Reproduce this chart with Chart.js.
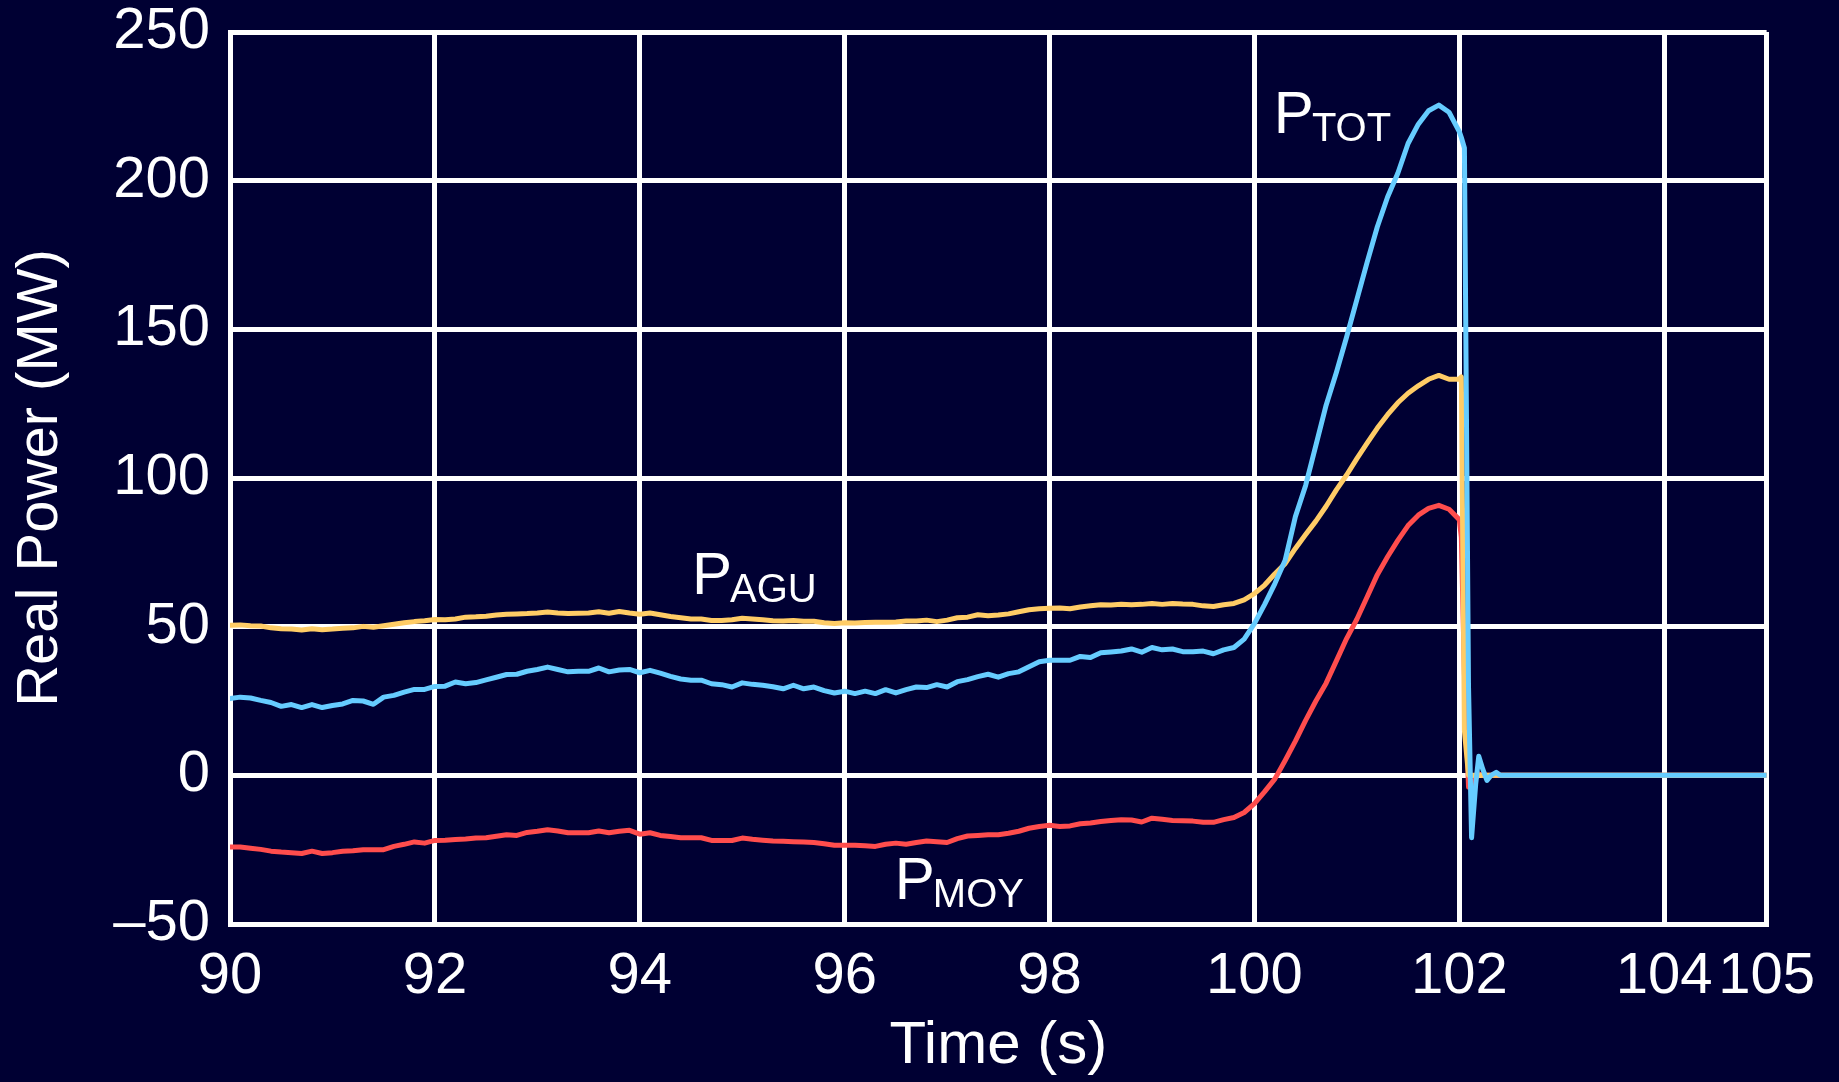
<!DOCTYPE html>
<html>
<head>
<meta charset="utf-8">
<title>Real Power</title>
<script src="https://cdn.jsdelivr.net/npm/chart.js@4.4.1/dist/chart.umd.min.js"></script>
<style>
  html, body { margin: 0; padding: 0; background: #000033; }
  #wrap { width: 1839px; height: 1082px; }
</style>
</head>
<body>
<div id="wrap"><canvas id="powerChart"></canvas></div>
<script>
// Sample times (s)
const timeS = [
  90.0, 90.1, 90.2, 90.3, 90.4, 90.5, 90.6, 90.7, 90.8, 90.9,
  91.0, 91.1, 91.2, 91.3, 91.4, 91.5, 91.6, 91.7, 91.8, 91.9,
  92.0, 92.1, 92.2, 92.3, 92.4, 92.5, 92.6, 92.7, 92.8, 92.9,
  93.0, 93.1, 93.2, 93.3, 93.4, 93.5, 93.6, 93.7, 93.8, 93.9,
  94.0, 94.1, 94.2, 94.3, 94.4, 94.5, 94.6, 94.7, 94.8, 94.9,
  95.0, 95.1, 95.2, 95.3, 95.4, 95.5, 95.6, 95.7, 95.8, 95.9,
  96.0, 96.1, 96.2, 96.3, 96.4, 96.5, 96.6, 96.7, 96.8, 96.9,
  97.0, 97.1, 97.2, 97.3, 97.4, 97.5, 97.6, 97.7, 97.8, 97.9,
  98.0, 98.1, 98.2, 98.3, 98.4, 98.5, 98.6, 98.7, 98.8, 98.9,
  99.0, 99.1, 99.2, 99.3, 99.4, 99.5, 99.6, 99.7, 99.8, 99.9,
  100.0, 100.1, 100.2, 100.3, 100.4, 100.5, 100.6, 100.7, 100.8, 100.9,
  101.0, 101.1, 101.2, 101.3, 101.4, 101.5, 101.6, 101.7, 101.8, 101.9,
  102.0, 102.02, 102.05, 102.09, 102.12, 102.16, 102.19, 102.23, 102.27, 102.31,
  102.36, 102.4, 103, 104, 105
];

// P_TOT (MW)
const pTot = [
  25.8, 26.3, 26.0, 25.2, 24.5, 23.2, 23.8, 22.8, 23.8, 22.8,
  23.5, 24.0, 25.2, 25.0, 23.9, 26.3, 26.9, 28.0, 28.9, 28.9,
  29.9, 30.0, 31.4, 30.8, 31.2, 32.1, 33.0, 33.9, 34.0, 35.0,
  35.6, 36.4, 35.6, 34.8, 35.0, 35.0, 36.1, 34.8, 35.4, 35.6,
  34.5, 35.3, 34.4, 33.3, 32.4, 32.0, 32.0, 30.8, 30.5, 29.7,
  31.1, 30.6, 30.3, 29.8, 29.1, 30.3, 29.1, 29.7, 28.5, 27.7,
  28.3, 27.5, 28.3, 27.5, 28.8, 27.7, 28.8, 29.7, 29.5, 30.5,
  29.7, 31.5, 32.2, 33.2, 34.0, 33.0, 34.2, 34.8, 36.5, 38.2,
  38.7, 38.7, 38.7, 40.0, 39.6, 41.2, 41.5, 41.8, 42.5, 41.4,
  43.0, 42.2, 42.5, 41.6, 41.6, 41.8, 40.9, 42.2, 43.0, 45.8,
  51.0, 57.5, 64.5, 72.3, 87.0, 97.5, 111.0, 124.5, 135.5, 147.4,
  160.0, 172.5, 184.5, 194.5, 202.5, 212.5, 219.0, 223.5, 225.4, 223.0,
  216.5, 214.5, 211.0, 30.0, -21.0, -3.0, 6.4, 2.0, -1.7, 0.0,
  1.0, 0.0, 0.0, 0.0, 0.0
];

// P_AGU (MW)
const pAgu = [
  50.5, 50.6, 50.3, 50.2, 49.6, 49.3, 49.2, 48.9, 49.3, 49.0,
  49.2, 49.5, 49.6, 50.1, 49.8, 50.3, 50.8, 51.3, 51.7, 52.0,
  52.4, 52.3, 52.6, 53.2, 53.3, 53.5, 53.9, 54.2, 54.3, 54.4,
  54.6, 54.9, 54.6, 54.4, 54.5, 54.6, 55.0, 54.5, 55.1, 54.6,
  54.2, 54.6, 54.0, 53.4, 53.0, 52.6, 52.6, 52.1, 52.1, 52.3,
  52.8, 52.6, 52.3, 52.0, 51.9, 52.1, 51.8, 51.8, 51.3, 51.1,
  51.3, 51.2, 51.4, 51.5, 51.5, 51.6, 51.9, 51.9, 52.2, 51.7,
  52.2, 53.0, 53.2, 54.0, 53.7, 53.9, 54.3, 55.0, 55.7, 56.0,
  56.2, 56.3, 56.0, 56.6, 57.0, 57.4, 57.3, 57.5, 57.4, 57.5,
  57.8, 57.5, 57.8, 57.6, 57.5, 57.0, 56.8, 57.4, 57.8, 59.0,
  61.1, 64.0, 67.8, 71.2, 76.3, 81.0, 85.5, 90.5, 96.0, 101.0,
  106.5, 111.7, 116.8, 121.3, 125.3, 128.5, 131.0, 133.2, 134.5, 133.2,
  133.3, 134.0, 15.0, 0.0, 0.0, 0.0, 0.0, 0.0, 0.0, 0.0,
  0.0, 0.0, 0.0, 0.0, 0.0
];

// P_MOY (MW)
const pMoy = [
  -24.1, -24.1, -24.5, -24.9, -25.5, -25.8, -26.0, -26.3, -25.5, -26.3,
  -26.0, -25.5, -25.4, -25.0, -25.0, -25.0, -23.9, -23.2, -22.4, -22.8,
  -21.9, -21.8, -21.6, -21.4, -21.1, -21.0, -20.5, -20.0, -20.2, -19.2,
  -18.8, -18.3, -18.7, -19.3, -19.3, -19.3, -18.7, -19.3, -18.8, -18.5,
  -19.8, -19.3, -20.2, -20.6, -21.0, -21.0, -21.0, -21.9, -21.9, -21.9,
  -21.1, -21.5, -21.8, -22.1, -22.2, -22.3, -22.4, -22.6, -23.0, -23.5,
  -23.5, -23.5, -23.7, -23.9, -23.2, -22.8, -23.2, -22.6, -22.1, -22.3,
  -22.6, -21.3, -20.4, -20.2, -20.0, -20.0, -19.5, -18.8, -17.8, -17.2,
  -16.8, -17.2, -17.0, -16.3, -16.0, -15.5, -15.2, -14.9, -15.0, -15.7,
  -14.4, -14.8, -15.2, -15.3, -15.4, -15.8, -15.8, -14.9, -14.2, -12.5,
  -9.5, -5.5, -1.2, 5.0, 11.5, 18.5, 25.0, 31.0, 38.5, 46.0,
  52.5, 60.0, 67.5, 73.5, 79.0, 84.0, 87.5, 89.8, 90.8, 89.5,
  86.0, 80.0, 34.0, -4.0, -3.0, -1.0, 0.5, 0.0, 0.0, 0.0,
  0.0, 0.0, 0.0, 0.0, 0.0
];

// Axis ticks
const xTicks = [90, 92, 94, 96, 98, 100, 102, 104, 105];
const yMin = -50, yMax = 250, yStep = 50;

const FONT = '"Liberation Sans", Arial, sans-serif';
const WHITE = '#ffffff';

function toPoints(values) {
    return timeS.map((t, i) => ({ x: t, y: values[i] }));
}

// Draws the P_xxx labels next to the curves
const curveLabels = {
    id: 'curveLabels',
    afterDatasetsDraw(chart) {
        const ctx = chart.ctx;
        const xs = chart.scales.x, ys = chart.scales.y;
        const items = [
            { sub: 'TOT', t: 100.19, v: 216 },
            { sub: 'AGU', t: 94.51, v: 61 },
            { sub: 'MOY', t: 96.49, v: -41.5 }
        ];
        ctx.save();
        ctx.fillStyle = WHITE;
        ctx.textBaseline = 'alphabetic';
        ctx.textAlign = 'left';
        items.forEach(it => {
            const x = xs.getPixelForValue(it.t);
            const y = ys.getPixelForValue(it.v);
            ctx.font = '60px ' + FONT;
            ctx.fillText('P', x, y);
            const w = ctx.measureText('P').width;
            ctx.font = '40px ' + FONT;
            ctx.fillText(it.sub, x + w - 2, y + 8);
        });
        ctx.restore();
    }
};

const ctx = document.getElementById('powerChart').getContext('2d');

new Chart(ctx, {
    type: 'line',
    data: {
        datasets: [
            { label: 'P TOT', data: toPoints(pTot), borderColor: '#66ccff' },
            { label: 'P AGU', data: toPoints(pAgu), borderColor: '#ffcc66' },
            { label: 'P MOY', data: toPoints(pMoy), borderColor: '#ff4d4d' }
        ]
    },
    options: {
        responsive: true,
        maintainAspectRatio: false,
        animation: false,
        layout: { padding: { top: 32, right: 72, left: 0, bottom: 0 } },
        elements: {
            line: { borderWidth: 5, tension: 0, borderCapStyle: 'round', borderJoinStyle: 'round' },
            point: { radius: 0 }
        },
        plugins: {
            legend: { display: false },
            tooltip: { enabled: false }
        },
        scales: {
            x: {
                type: 'linear',
                min: 90,
                max: 105,
                afterBuildTicks: scale => { scale.ticks = xTicks.map(v => ({ value: v })); },
                afterFit: scale => { scale.height = 158; },
                grid: { color: WHITE, lineWidth: 5, drawTicks: false },
                border: { color: WHITE, width: 5 },
                ticks: {
                    color: WHITE,
                    font: { family: FONT, size: 58, lineHeight: 1 },
                    padding: 24,
                    autoSkip: false,
                    maxRotation: 0
                },
                title: {
                    display: true,
                    text: 'Time (s)',
                    color: WHITE,
                    font: { family: FONT, size: 60, lineHeight: 1.2 },
                    padding: { top: 0, bottom: 0 }
                }
            },
            y: {
                min: yMin,
                max: yMax,
                afterFit: scale => { scale.width = 230; },
                grid: { color: WHITE, lineWidth: 5, drawTicks: false },
                border: { color: WHITE, width: 5 },
                ticks: {
                    stepSize: yStep,
                    color: WHITE,
                    // small lineHeight keeps the top label from pushing the plot down
                    font: { family: FONT, size: 58, lineHeight: 0.4 },
                    padding: 20,
                    callback: v => v < 0 ? '\u2013' + Math.abs(v) : String(v)
                },
                title: {
                    display: true,
                    text: 'Real Power (MW)',
                    color: WHITE,
                    font: { family: FONT, size: 58, lineHeight: 1.2 },
                    padding: { top: 6, bottom: 0 }
                }
            }
        }
    },
    plugins: [curveLabels]
});
</script>
</body>
</html>
